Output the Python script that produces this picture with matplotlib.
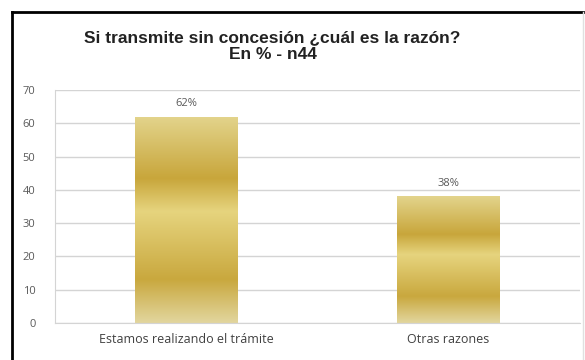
import matplotlib.pyplot as plt
import numpy as np
from matplotlib.colors import LinearSegmentedColormap
from matplotlib.lines import Line2D

categories = ['Estamos realizando el trámite', 'Otras razones']
values = [62, 38]
value_labels = ['62%', '38%']
yticks = [0, 10, 20, 30, 40, 50, 60, 70]

title = 'Si transmite sin concesión ¿cuál es la razón?\nEn % - n44'

# golden banded fill, bottom -> top of each bar
gold = LinearSegmentedColormap.from_list('gold', [
    (0.0, '#e2d69e'),
    (0.21, '#c9a83e'),
    (0.54, '#e6d47e'),
    (0.70, '#c8a63b'),
    (1.0, '#e3d48c'),
])

fig = plt.figure(figsize=(5.85, 3.6), dpi=100)
ax = fig.add_axes([0.094, 0.103, 0.897, 0.647])

x = np.arange(len(categories))
bars = ax.bar(x, values, width=0.39, color='none', zorder=2)

grad = np.linspace(0, 1, 256).reshape(-1, 1)
for b in bars:
    x0, y0 = b.get_x(), b.get_y()
    w, h = b.get_width(), b.get_height()
    im = ax.imshow(grad, cmap=gold, origin='lower', aspect='auto',
                   extent=[x0, x0 + w, y0, y0 + h], zorder=2)
    im.set_clip_path(b)

for xi, v, lab in zip(x, values, value_labels):
    ax.text(xi, v + 2.3, lab, ha='center', va='bottom', fontsize=8,
            color='#595959', family='Open Sans')

ax.set_xlim(-0.5, 1.5)
ax.set_ylim(0, 70)
ax.set_yticks(yticks)
ax.set_xticks(x)
ax.set_xticklabels(categories, fontsize=9, color='#404040', family='Open Sans')
ax.tick_params(axis='y', labelsize=8, labelcolor='#595959', length=0, pad=14)
ax.tick_params(axis='x', length=0, pad=7)
for lab in ax.get_yticklabels():
    lab.set_family('Open Sans')
ax.yaxis.grid(True, color='#d4d4d4', linewidth=1.0, zorder=0)
ax.set_axisbelow(True)
for s in ['top', 'right']:
    ax.spines[s].set_visible(False)
ax.spines['left'].set_color('#d4d4d4')
ax.spines['bottom'].set_color('#d4d4d4')

fig.text(0.466, 0.872, title, ha='center', va='center', fontsize=12.5,
         fontweight='bold', family='Liberation Sans', color='#222222',
         linespacing=1.2)

# frame around the chart
fig.add_artist(Line2D([12 / 585, 12 / 585], [0, 1 - 12 / 360],
                      transform=fig.transFigure, color='black', linewidth=2))
fig.add_artist(Line2D([12 / 585, 583 / 585], [1 - 12 / 360, 1 - 12 / 360],
                      transform=fig.transFigure, color='black', linewidth=2))
fig.add_artist(Line2D([583 / 585, 583 / 585], [0, 1 - 12 / 360],
                      transform=fig.transFigure, color='#e0e0e0', linewidth=1))

fig.savefig('out.png', dpi=100)
